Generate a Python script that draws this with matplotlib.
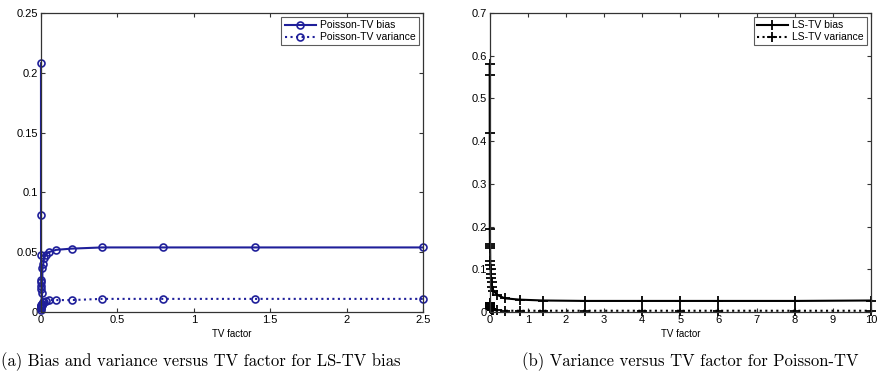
import matplotlib.pyplot as plt

plt.rcParams['font.family'] = ['Liberation Sans', 'DejaVu Sans']

# Poisson-TV (left panel)
tv_pois = [0.0001, 0.0002, 0.0005, 0.001, 0.0015, 0.002, 0.003, 0.004, 0.006,
           0.01, 0.015, 0.02, 0.03, 0.05, 0.1, 0.2, 0.4, 0.8, 1.4, 2.5]
pois_bias = [0.208, 0.081, 0.048, 0.027, 0.025, 0.022, 0.019, 0.016, 0.006,
             0.037, 0.040, 0.045, 0.048, 0.050, 0.052, 0.053, 0.054, 0.054, 0.054, 0.054]
pois_var = [0.002, 0.003, 0.004, 0.004, 0.005, 0.005, 0.006, 0.006, 0.007,
            0.007, 0.008, 0.008, 0.009, 0.010, 0.010, 0.010, 0.011, 0.011, 0.011, 0.011]

# LS-TV (right panel)
tv_ls = [0.001, 0.002, 0.003, 0.005, 0.008, 0.01, 0.012, 0.015, 0.02, 0.025,
         0.03, 0.04, 0.05, 0.07, 0.1, 0.2, 0.4, 0.8, 1.4, 2.5, 4, 5, 6, 8, 10]
ls_bias = [0.58, 0.555, 0.42, 0.195, 0.16, 0.155, 0.15, 0.12, 0.11, 0.10,
           0.09, 0.08, 0.07, 0.058, 0.05, 0.04, 0.032, 0.029, 0.027, 0.026,
           0.026, 0.026, 0.026, 0.026, 0.027]
ls_var = [0.022, 0.020, 0.018, 0.016, 0.014, 0.012, 0.011, 0.010, 0.009, 0.008,
          0.007, 0.006, 0.005, 0.005, 0.004, 0.004, 0.003, 0.003, 0.003, 0.003,
          0.003, 0.003, 0.003, 0.003, 0.003]

blue = '#1f1f9a'

fig = plt.figure(figsize=(8.79, 3.81), dpi=100)
ax1 = fig.add_axes([0.0466, 0.181, 0.4346, 0.785])
ax2 = fig.add_axes([0.557, 0.181, 0.434, 0.785])

ax1.plot(tv_pois, pois_bias, '-o', color=blue, lw=1.5, ms=5, mfc='none', mew=1.2,
         label='Poisson-TV bias', clip_on=False)
ax1.plot(tv_pois, pois_var, ':o', color=blue, lw=1.5, ms=5, mfc='none', mew=1.2,
         label='Poisson-TV variance', clip_on=False)
ax1.set_xlim(0, 2.5)
ax1.set_ylim(0, 0.25)
ax1.set_xticks([0, 0.5, 1, 1.5, 2, 2.5])
ax1.set_xticklabels(['0', '0.5', '1', '1.5', '2', '2.5'])
ax1.set_yticks([0, 0.05, 0.1, 0.15, 0.2, 0.25])
ax1.set_yticklabels(['0', '0.05', '0.1', '0.15', '0.2', '0.25'])

ax2.plot(tv_ls, ls_bias, '-+', color='black', lw=1.5, ms=7, mew=1.3,
         label='LS-TV bias', clip_on=False)
ax2.plot(tv_ls, ls_var, ':+', color='black', lw=1.5, ms=7, mew=1.3,
         label='LS-TV variance', clip_on=False)
ax2.set_xlim(0, 10)
ax2.set_ylim(0, 0.7)
ax2.set_xticks(range(0, 11))
ax2.set_yticks([0, 0.1, 0.2, 0.3, 0.4, 0.5, 0.6, 0.7])
ax2.set_yticklabels(['0', '0.1', '0.2', '0.3', '0.4', '0.5', '0.6', '0.7'])

for ax in (ax1, ax2):
    ax.tick_params(direction='in', top=True, right=True, labelsize=8, length=3,
                   pad=2, color='#333333')
    for s in ax.spines.values():
        s.set_color('#333333')
        s.set_linewidth(0.9)
    ax.set_xlabel('TV factor', fontsize=7, labelpad=3)
    leg = ax.legend(loc='upper right', fontsize=7.5, frameon=True, fancybox=False,
                    edgecolor='#333333', borderaxespad=0.4, handlelength=3,
                    borderpad=0.3, labelspacing=0.2, handletextpad=0.4)
    leg.get_frame().set_linewidth(0.8)

fig.text(0.229, 0.05, '(a) Bias and variance versus TV factor for LS-TV bias',
         ha='center', va='center', fontsize=12, family='cmr10')
fig.text(0.785, 0.05, '(b) Variance versus TV factor for Poisson-TV',
         ha='center', va='center', fontsize=12, family='cmr10')

fig.savefig('out.png', dpi=100)
